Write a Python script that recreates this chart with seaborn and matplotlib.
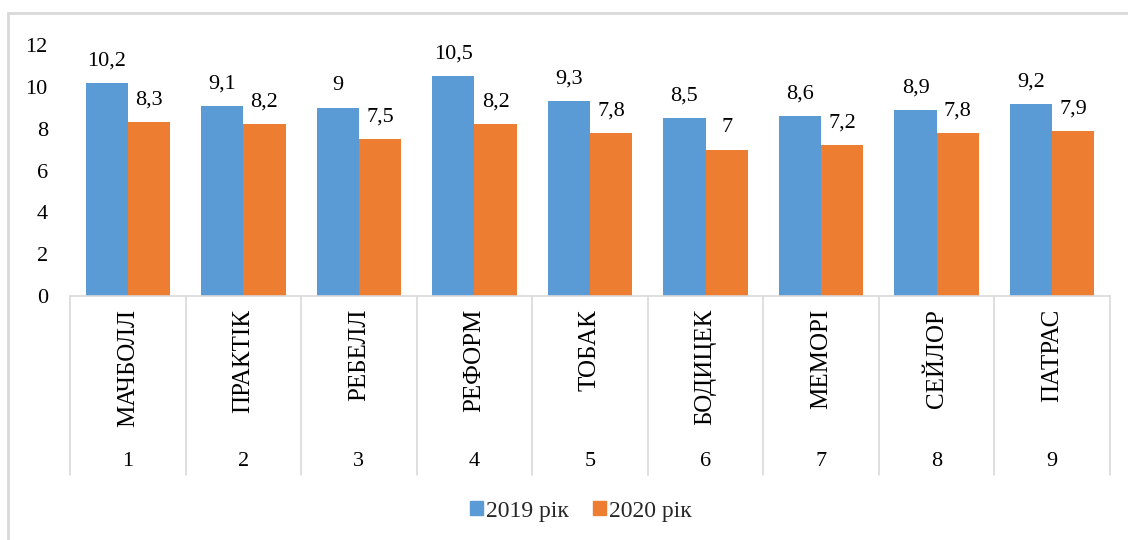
import matplotlib
matplotlib.use("Agg")
import matplotlib.pyplot as plt
import seaborn as sns
import pandas as pd
from matplotlib.patches import Rectangle
from matplotlib.transforms import blended_transform_factory

names = ["МАЧБОЛЛ", "ПРАКТІК", "РЕБЕЛЛ", "РЕФОРМ", "ТОБАК", "БОДИЦЕК", "МЕМОРІ", "СЕЙЛОР", "ПАТРАС"]
numbers = ["1", "2", "3", "4", "5", "6", "7", "8", "9"]
series_names = ["2019 рік", "2020 рік"]
values_2019 = [10.2, 9.1, 9.0, 10.5, 9.3, 8.5, 8.6, 8.9, 9.2]
values_2020 = [8.3, 8.2, 7.5, 8.2, 7.8, 7.0, 7.2, 7.8, 7.9]
colors = ["#5B9BD5", "#ED7D31"]

df = pd.DataFrame({
    "cat": numbers * 2,
    "series": [series_names[0]] * 9 + [series_names[1]] * 9,
    "value": values_2019 + values_2020,
})

sns.set_theme(style="white")
plt.rcParams["font.family"] = ["Liberation Serif", "DejaVu Serif"]

W, H = 1128, 540
fig = plt.figure(figsize=(W / 100, H / 100), dpi=100)
left, right, zero_y, top_y = 70, 1110, 296, 45
ax = fig.add_axes([left / W, (H - zero_y) / H, (right - left) / W, (zero_y - top_y) / H])

sns.barplot(data=df, x="cat", y="value", hue="series", order=numbers,
            hue_order=series_names, palette=colors, width=0.73, saturation=1,
            ax=ax, legend=False, edgecolor="none")

ax.set_ylim(0, 12)
ax.set_xlim(-0.5, 8.5)
ax.set_yticks(range(0, 13, 2))
ax.set_yticklabels([str(v) for v in range(0, 13, 2)], fontsize=16, color="#000000")
ax.tick_params(axis="y", length=0, pad=16)
ax.set_xticks([])
ax.set_xlabel("")
ax.set_ylabel("")
for s in ["left", "right", "top"]:
    ax.spines[s].set_visible(False)
ax.spines["bottom"].set_color("#D9D9D9")
ax.spines["bottom"].set_linewidth(1.2)

for cont, vals in zip(ax.containers, [values_2019, values_2020]):
    labels = [("%g" % v).replace(".", ",") for v in vals]
    ax.bar_label(cont, labels=labels, padding=9, fontsize=16, color="#000000")

trans = blended_transform_factory(ax.transData, ax.transAxes)
sep_bottom = (zero_y - 475) / (zero_y - top_y)
for k in range(10):
    ax.plot([k - 0.5, k - 0.5], [0, sep_bottom], transform=trans, color="#D9D9D9",
            lw=1.2, clip_on=False)
name_top = (zero_y - 309) / (zero_y - top_y)
num_y = (zero_y - 462) / (zero_y - top_y)
for i, (nm, nb) in enumerate(zip(names, numbers)):
    ax.text(i, name_top, nm, transform=trans, rotation=90, ha="center", va="top",
            fontsize=18, color="#000000")
    ax.text(i, num_y, nb, transform=trans, ha="center", va="center",
            fontsize=16, color="#000000")

handles = [Rectangle((0, 0), 1, 1, color=c) for c in colors]
fig.legend(handles, series_names, loc="center", bbox_to_anchor=(581 / W, 1 - 511 / H),
           ncol=2, frameon=False, fontsize=17, handlelength=0.55, handleheight=0.55,
           handletextpad=0.15, columnspacing=1.0)

border = Rectangle((8 / W, (H - 545) / H), (1140 - 8) / W, (545 - 13) / H,
                   transform=fig.transFigure, fill=False, edgecolor="#D9D9D9", lw=2)
fig.patches.append(border)

fig.savefig("out.png", dpi=100)
